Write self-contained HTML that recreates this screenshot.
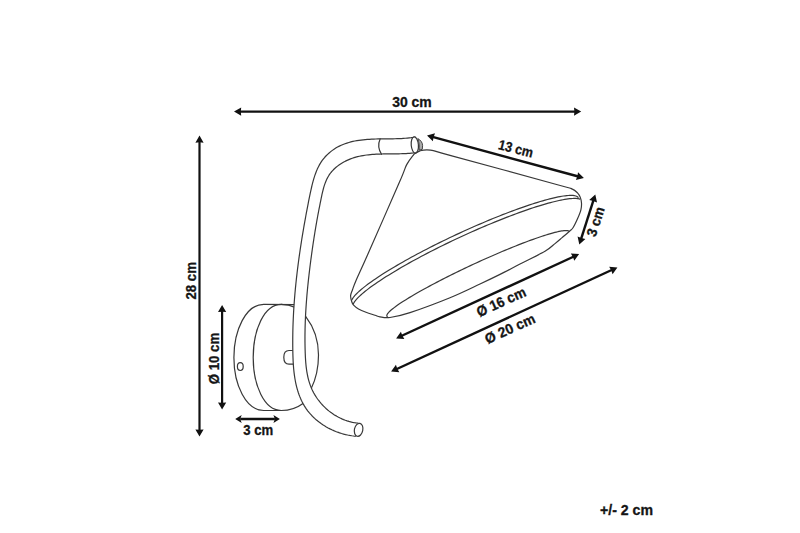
<!DOCTYPE html>
<html><head><meta charset="utf-8"><style>
html,body{margin:0;padding:0;background:#fff;}
svg{display:block;}
text{font-family:"Liberation Sans",sans-serif;font-weight:bold;fill:#151515;stroke:#151515;stroke-width:0.3px;}
</style></head><body>
<svg width="800" height="533" viewBox="0 0 800 533">
<rect width="800" height="533" fill="#fff"/>

<g fill="none" stroke="#383838" stroke-width="1.2" stroke-linejoin="round" stroke-linecap="round">
<!-- wall plate -->
<path d="M294,304.6 L263.7,304.4 C246,304.4 233.9,330 233.9,357.5 C233.9,385 246,410.5 263.7,410.5 L281,410.5"/>
<path d="M281.3,304.4 C264,304.4 253.2,330 253.2,357.5 C253.2,385 264,410.5 281.3,410.5 C290,410.5 297,408 303,403.5"/>
<path d="M281.3,304.4 C292,304.4 300,309 305.8,316.6 C313,326 318.5,340 318.5,355 C318.5,368 316,379 311,389"/>
<ellipse cx="240.3" cy="366.6" rx="2.9" ry="3.9"/>
<path d="M294,350.5 L289,350.5 C285.5,350.5 283.8,353.5 283.8,357.3 C283.8,361 285.5,364.2 289,364.2 L294,364.2"/>
<!-- rod -->
<path d="M415.07,137.00 L413.17,137.34 L411.24,137.63 L409.28,137.88 L407.30,138.09 L405.30,138.26 L403.28,138.41 L401.24,138.53 L399.18,138.62 L397.11,138.69 L395.02,138.75 L392.92,138.79 L390.81,138.82 L388.69,138.84 L386.56,138.86 L384.43,138.88 L382.29,138.90 L380.15,138.93 L378.01,138.97 L375.87,139.02 L373.73,139.09 L371.60,139.18 L369.47,139.29 L367.35,139.43 L365.24,139.60 L363.14,139.80 L361.05,140.04 L358.97,140.32 L356.92,140.65 L354.87,141.02 L352.85,141.45 L350.85,141.92 L348.87,142.46 L346.91,143.06 L344.98,143.72 L343.08,144.45 L341.21,145.25 L339.36,146.12 L337.55,147.08 L335.78,148.10 L334.04,149.21 L332.36,150.38 L330.72,151.63 L329.14,152.94 L327.62,154.32 L326.16,155.76 L324.78,157.27 L323.46,158.84 L322.23,160.46 L321.07,162.15 L320.00,163.88 L319.00,165.66 L318.07,167.49 L317.20,169.36 L316.40,171.26 L315.65,173.20 L314.95,175.16 L314.30,177.14 L313.69,179.14 L313.12,181.16 L312.58,183.18 L312.07,185.21 L311.58,187.24 L311.11,189.28 L310.66,191.31 L310.22,193.34 L309.80,195.38 L309.39,197.41 L308.98,199.45 L308.57,201.49 L308.17,203.52 L307.78,205.56 L307.39,207.60 L307.00,209.63 L306.61,211.67 L306.23,213.71 L305.85,215.75 L305.48,217.79 L305.11,219.83 L304.74,221.87 L304.38,223.91 L304.02,225.95 L303.67,227.99 L303.32,230.03 L302.97,232.08 L302.63,234.12 L302.29,236.16 L301.96,238.21 L301.63,240.25 L301.31,242.29 L300.99,244.34 L300.68,246.38 L300.37,248.43 L300.07,250.48 L299.77,252.52 L299.47,254.57 L299.18,256.62 L298.90,258.66 L298.62,260.71 L298.35,262.76 L298.08,264.81 L297.82,266.86 L297.56,268.91 L297.31,270.96 L297.07,273.01 L296.83,275.06 L296.59,277.11 L296.36,279.16 L296.14,281.21 L295.93,283.27 L295.72,285.32 L295.51,287.38 L295.32,289.43 L295.13,291.49 L294.94,293.54 L294.77,295.60 L294.60,297.66 L294.43,299.72 L294.28,301.78 L294.13,303.84 L293.99,305.90 L293.85,307.96 L293.72,310.03 L293.60,312.09 L293.49,314.15 L293.39,316.22 L293.29,318.29 L293.20,320.36 L293.11,322.43 L293.04,324.50 L292.97,326.57 L292.91,328.64 L292.86,330.71 L292.82,332.79 L292.79,334.87 L292.76,336.94 L292.75,339.02 L292.74,341.10 L292.74,343.18 L292.75,345.26 L292.76,347.35 L292.79,349.43 L292.83,351.52 L292.87,353.61 L292.93,355.70 L293.00,357.79 L293.08,359.87 L293.18,361.96 L293.31,364.04 L293.45,366.12 L293.62,368.20 L293.81,370.27 L294.04,372.33 L294.29,374.39 L294.58,376.44 L294.90,378.49 L295.26,380.52 L295.65,382.54 L296.09,384.56 L296.57,386.56 L297.10,388.55 L297.67,390.53 L298.29,392.50 L298.97,394.45 L299.70,396.38 L300.48,398.30 L301.32,400.19 L302.23,402.05 L303.19,403.88 L304.22,405.67 L305.31,407.42 L306.47,409.12 L307.69,410.78 L308.97,412.39 L310.30,413.95 L311.69,415.47 L313.13,416.94 L314.63,418.36 L316.17,419.73 L317.76,421.06 L319.39,422.33 L321.06,423.56 L322.78,424.73 L324.53,425.85 L326.31,426.92 L328.13,427.93 L329.98,428.89 L331.86,429.80 L333.76,430.65 L335.69,431.45 L337.64,432.19 L339.61,432.87 L341.60,433.50 L343.60,434.07 L345.62,434.58 L347.65,435.03 L349.68,435.43 L351.73,435.76 L353.77,436.03 L355.82,436.24 L358.04,423.16 L356.18,422.95 L354.33,422.66 L352.50,422.31 L350.68,421.89 L348.88,421.41 L347.10,420.86 L345.34,420.25 L343.60,419.58 L341.88,418.86 L340.19,418.07 L338.52,417.23 L336.88,416.34 L335.27,415.39 L333.69,414.40 L332.14,413.35 L330.62,412.25 L329.14,411.11 L327.69,409.93 L326.28,408.70 L324.91,407.42 L323.58,406.11 L322.29,404.76 L321.04,403.37 L319.84,401.95 L318.68,400.49 L317.57,399.00 L316.52,397.48 L315.51,395.92 L314.55,394.34 L313.64,392.74 L312.79,391.10 L312.00,389.45 L311.26,387.77 L310.58,386.07 L309.96,384.35 L309.38,382.61 L308.85,380.86 L308.37,379.09 L307.94,377.30 L307.54,375.50 L307.19,373.69 L306.87,371.86 L306.59,370.02 L306.34,368.18 L306.12,366.32 L305.93,364.46 L305.76,362.59 L305.62,360.72 L305.50,358.84 L305.39,356.96 L305.31,355.08 L305.23,353.20 L305.17,351.32 L305.11,349.44 L305.07,347.56 L305.03,345.68 L305.00,343.81 L304.98,341.93 L304.97,340.06 L304.97,338.19 L304.97,336.32 L304.99,334.46 L305.01,332.59 L305.04,330.72 L305.07,328.86 L305.12,327.00 L305.17,325.14 L305.23,323.28 L305.29,321.42 L305.37,319.56 L305.45,317.70 L305.53,315.85 L305.63,313.99 L305.73,312.14 L305.84,310.29 L305.95,308.44 L306.07,306.59 L306.20,304.74 L306.33,302.89 L306.47,301.04 L306.61,299.19 L306.76,297.35 L306.91,295.50 L307.07,293.66 L307.24,291.81 L307.41,289.97 L307.59,288.13 L307.77,286.28 L307.96,284.44 L308.15,282.60 L308.34,280.76 L308.54,278.92 L308.75,277.08 L308.96,275.24 L309.17,273.40 L309.39,271.56 L309.61,269.72 L309.83,267.88 L310.06,266.04 L310.29,264.21 L310.53,262.37 L310.77,260.53 L311.01,258.69 L311.26,256.85 L311.51,255.02 L311.76,253.18 L312.01,251.34 L312.27,249.51 L312.54,247.67 L312.80,245.83 L313.07,243.99 L313.35,242.16 L313.63,240.32 L313.91,238.49 L314.20,236.65 L314.49,234.82 L314.78,232.98 L315.08,231.15 L315.38,229.31 L315.69,227.48 L316.00,225.65 L316.31,223.81 L316.64,221.98 L316.96,220.15 L317.29,218.32 L317.62,216.49 L317.96,214.66 L318.31,212.83 L318.66,211.00 L319.01,209.17 L319.37,207.34 L319.73,205.51 L320.10,203.68 L320.47,201.85 L320.84,200.01 L321.22,198.16 L321.60,196.31 L321.99,194.47 L322.41,192.62 L322.85,190.79 L323.32,188.98 L323.82,187.18 L324.37,185.40 L324.97,183.65 L325.62,181.94 L326.33,180.25 L327.10,178.61 L327.95,177.01 L328.87,175.46 L329.88,173.96 L330.97,172.51 L332.14,171.12 L333.38,169.79 L334.70,168.51 L336.07,167.28 L337.51,166.12 L339.00,165.01 L340.54,163.96 L342.13,162.97 L343.75,162.03 L345.41,161.16 L347.10,160.34 L348.82,159.59 L350.55,158.89 L352.30,158.26 L354.06,157.68 L355.84,157.16 L357.64,156.68 L359.44,156.26 L361.26,155.88 L363.09,155.55 L364.93,155.25 L366.77,155.00 L368.63,154.78 L370.49,154.59 L372.36,154.43 L374.24,154.30 L376.12,154.19 L378.00,154.10 L379.88,154.04 L381.77,153.98 L383.66,153.95 L385.55,153.92 L387.44,153.90 L389.33,153.88 L391.21,153.87 L393.09,153.86 L394.97,153.85 L396.84,153.82 L398.71,153.80 L400.57,153.75 L402.42,153.70 L404.26,153.63 L406.10,153.54 L407.92,153.43 L409.73,153.29 L411.53,153.12 L413.32,152.93 L415.09,152.70Z" fill="#fff" stroke="none"/>
<path d="M415.07,137.00 L413.17,137.34 L411.24,137.63 L409.28,137.88 L407.30,138.09 L405.30,138.26 L403.28,138.41 L401.24,138.53 L399.18,138.62 L397.11,138.69 L395.02,138.75 L392.92,138.79 L390.81,138.82 L388.69,138.84 L386.56,138.86 L384.43,138.88 L382.29,138.90 L380.15,138.93 L378.01,138.97 L375.87,139.02 L373.73,139.09 L371.60,139.18 L369.47,139.29 L367.35,139.43 L365.24,139.60 L363.14,139.80 L361.05,140.04 L358.97,140.32 L356.92,140.65 L354.87,141.02 L352.85,141.45 L350.85,141.92 L348.87,142.46 L346.91,143.06 L344.98,143.72 L343.08,144.45 L341.21,145.25 L339.36,146.12 L337.55,147.08 L335.78,148.10 L334.04,149.21 L332.36,150.38 L330.72,151.63 L329.14,152.94 L327.62,154.32 L326.16,155.76 L324.78,157.27 L323.46,158.84 L322.23,160.46 L321.07,162.15 L320.00,163.88 L319.00,165.66 L318.07,167.49 L317.20,169.36 L316.40,171.26 L315.65,173.20 L314.95,175.16 L314.30,177.14 L313.69,179.14 L313.12,181.16 L312.58,183.18 L312.07,185.21 L311.58,187.24 L311.11,189.28 L310.66,191.31 L310.22,193.34 L309.80,195.38 L309.39,197.41 L308.98,199.45 L308.57,201.49 L308.17,203.52 L307.78,205.56 L307.39,207.60 L307.00,209.63 L306.61,211.67 L306.23,213.71 L305.85,215.75 L305.48,217.79 L305.11,219.83 L304.74,221.87 L304.38,223.91 L304.02,225.95 L303.67,227.99 L303.32,230.03 L302.97,232.08 L302.63,234.12 L302.29,236.16 L301.96,238.21 L301.63,240.25 L301.31,242.29 L300.99,244.34 L300.68,246.38 L300.37,248.43 L300.07,250.48 L299.77,252.52 L299.47,254.57 L299.18,256.62 L298.90,258.66 L298.62,260.71 L298.35,262.76 L298.08,264.81 L297.82,266.86 L297.56,268.91 L297.31,270.96 L297.07,273.01 L296.83,275.06 L296.59,277.11 L296.36,279.16 L296.14,281.21 L295.93,283.27 L295.72,285.32 L295.51,287.38 L295.32,289.43 L295.13,291.49 L294.94,293.54 L294.77,295.60 L294.60,297.66 L294.43,299.72 L294.28,301.78 L294.13,303.84 L293.99,305.90 L293.85,307.96 L293.72,310.03 L293.60,312.09 L293.49,314.15 L293.39,316.22 L293.29,318.29 L293.20,320.36 L293.11,322.43 L293.04,324.50 L292.97,326.57 L292.91,328.64 L292.86,330.71 L292.82,332.79 L292.79,334.87 L292.76,336.94 L292.75,339.02 L292.74,341.10 L292.74,343.18 L292.75,345.26 L292.76,347.35 L292.79,349.43 L292.83,351.52 L292.87,353.61 L292.93,355.70 L293.00,357.79 L293.08,359.87 L293.18,361.96 L293.31,364.04 L293.45,366.12 L293.62,368.20 L293.81,370.27 L294.04,372.33 L294.29,374.39 L294.58,376.44 L294.90,378.49 L295.26,380.52 L295.65,382.54 L296.09,384.56 L296.57,386.56 L297.10,388.55 L297.67,390.53 L298.29,392.50 L298.97,394.45 L299.70,396.38 L300.48,398.30 L301.32,400.19 L302.23,402.05 L303.19,403.88 L304.22,405.67 L305.31,407.42 L306.47,409.12 L307.69,410.78 L308.97,412.39 L310.30,413.95 L311.69,415.47 L313.13,416.94 L314.63,418.36 L316.17,419.73 L317.76,421.06 L319.39,422.33 L321.06,423.56 L322.78,424.73 L324.53,425.85 L326.31,426.92 L328.13,427.93 L329.98,428.89 L331.86,429.80 L333.76,430.65 L335.69,431.45 L337.64,432.19 L339.61,432.87 L341.60,433.50 L343.60,434.07 L345.62,434.58 L347.65,435.03 L349.68,435.43 L351.73,435.76 L353.77,436.03 L355.82,436.24"/>
<path d="M415.09,152.70 L413.32,152.93 L411.53,153.12 L409.73,153.29 L407.92,153.43 L406.10,153.54 L404.26,153.63 L402.42,153.70 L400.57,153.75 L398.71,153.80 L396.84,153.82 L394.97,153.85 L393.09,153.86 L391.21,153.87 L389.33,153.88 L387.44,153.90 L385.55,153.92 L383.66,153.95 L381.77,153.98 L379.88,154.04 L378.00,154.10 L376.12,154.19 L374.24,154.30 L372.36,154.43 L370.49,154.59 L368.63,154.78 L366.77,155.00 L364.93,155.25 L363.09,155.55 L361.26,155.88 L359.44,156.26 L357.64,156.68 L355.84,157.16 L354.06,157.68 L352.30,158.26 L350.55,158.89 L348.82,159.59 L347.10,160.34 L345.41,161.16 L343.75,162.03 L342.13,162.97 L340.54,163.96 L339.00,165.01 L337.51,166.12 L336.07,167.28 L334.70,168.51 L333.38,169.79 L332.14,171.12 L330.97,172.51 L329.88,173.96 L328.87,175.46 L327.95,177.01 L327.10,178.61 L326.33,180.25 L325.62,181.94 L324.97,183.65 L324.37,185.40 L323.82,187.18 L323.32,188.98 L322.85,190.79 L322.41,192.62 L321.99,194.47 L321.60,196.31 L321.22,198.16 L320.84,200.01 L320.47,201.85 L320.10,203.68 L319.73,205.51 L319.37,207.34 L319.01,209.17 L318.66,211.00 L318.31,212.83 L317.96,214.66 L317.62,216.49 L317.29,218.32 L316.96,220.15 L316.64,221.98 L316.31,223.81 L316.00,225.65 L315.69,227.48 L315.38,229.31 L315.08,231.15 L314.78,232.98 L314.49,234.82 L314.20,236.65 L313.91,238.49 L313.63,240.32 L313.35,242.16 L313.07,243.99 L312.80,245.83 L312.54,247.67 L312.27,249.51 L312.01,251.34 L311.76,253.18 L311.51,255.02 L311.26,256.85 L311.01,258.69 L310.77,260.53 L310.53,262.37 L310.29,264.21 L310.06,266.04 L309.83,267.88 L309.61,269.72 L309.39,271.56 L309.17,273.40 L308.96,275.24 L308.75,277.08 L308.54,278.92 L308.34,280.76 L308.15,282.60 L307.96,284.44 L307.77,286.28 L307.59,288.13 L307.41,289.97 L307.24,291.81 L307.07,293.66 L306.91,295.50 L306.76,297.35 L306.61,299.19 L306.47,301.04 L306.33,302.89 L306.20,304.74 L306.07,306.59 L305.95,308.44 L305.84,310.29 L305.73,312.14 L305.63,313.99 L305.53,315.85 L305.45,317.70 L305.37,319.56 L305.29,321.42 L305.23,323.28 L305.17,325.14 L305.12,327.00 L305.07,328.86 L305.04,330.72 L305.01,332.59 L304.99,334.46 L304.97,336.32 L304.97,338.19 L304.97,340.06 L304.98,341.93 L305.00,343.81 L305.03,345.68 L305.07,347.56 L305.11,349.44 L305.17,351.32 L305.23,353.20 L305.31,355.08 L305.39,356.96 L305.50,358.84 L305.62,360.72 L305.76,362.59 L305.93,364.46 L306.12,366.32 L306.34,368.18 L306.59,370.02 L306.87,371.86 L307.19,373.69 L307.54,375.50 L307.94,377.30 L308.37,379.09 L308.85,380.86 L309.38,382.61 L309.96,384.35 L310.58,386.07 L311.26,387.77 L312.00,389.45 L312.79,391.10 L313.64,392.74 L314.55,394.34 L315.51,395.92 L316.52,397.48 L317.57,399.00 L318.68,400.49 L319.84,401.95 L321.04,403.37 L322.29,404.76 L323.58,406.11 L324.91,407.42 L326.28,408.70 L327.69,409.93 L329.14,411.11 L330.62,412.25 L332.14,413.35 L333.69,414.40 L335.27,415.39 L336.88,416.34 L338.52,417.23 L340.19,418.07 L341.88,418.86 L343.60,419.58 L345.34,420.25 L347.10,420.86 L348.88,421.41 L350.68,421.89 L352.50,422.31 L354.33,422.66 L356.18,422.95 L358.04,423.16"/>
<path d="M380.1,138.9 C378.3,143 378.3,149 381.5,154.3"/>
<ellipse cx="414.8" cy="145" rx="3.6" ry="8.1" transform="rotate(-5 414.8 145)" fill="#fff"/>
<ellipse cx="358.6" cy="429.8" rx="4.2" ry="6.6" transform="rotate(12 358.6 429.8)" fill="#fff"/>
<!-- shade -->
<path d="M413.90,154.30 C412.70,156.02 409.10,159.97 406.70,164.60 C404.30,169.23 406.03,167.05 399.50,182.10 C392.97,197.15 374.71,238.58 367.50,254.90 C360.29,271.22 358.75,274.19 356.25,280.00 C353.75,285.81 353.44,287.12 352.50,289.75 C351.56,292.38 350.73,293.75 350.60,295.75 C350.48,297.75 351.25,300.19 351.75,301.75 C352.25,303.31 352.48,303.91 353.60,305.10 C354.73,306.29 356.43,307.71 358.50,308.90 C360.57,310.09 363.25,311.19 366.00,312.25 C368.75,313.31 372.67,314.48 375.00,315.25 C377.33,316.02 377.50,316.52 380.00,316.90 C382.50,317.27 385.00,318.22 390.00,317.50 C395.00,316.78 400.00,315.90 410.00,312.60 C420.00,309.30 438.33,302.47 450.00,297.70 C461.67,292.93 471.67,287.88 480.00,284.00 C488.33,280.12 493.33,277.73 500.00,274.40 C506.67,271.07 512.50,267.85 520.00,264.00 C527.50,260.15 539.17,254.70 545.00,251.30 C550.83,247.90 552.20,245.83 555.00,243.60 C557.80,241.37 559.37,239.97 561.80,237.90 C564.23,235.83 567.73,232.88 569.60,231.20 C571.47,229.52 571.68,229.87 573.00,227.80 C574.32,225.73 576.18,221.80 577.50,218.80 C578.82,215.80 580.23,212.43 580.90,209.80 C581.57,207.17 581.60,205.07 581.50,203.00 C581.40,200.93 580.97,199.08 580.30,197.40 C579.63,195.72 578.90,194.32 577.50,192.90 C576.10,191.48 575.08,190.22 571.90,188.90 C568.72,187.58 578.72,190.60 558.40,185.00 C538.08,179.40 471.33,161.10 450.00,155.30 C428.67,149.50 435.38,150.95 430.40,150.20 C425.42,149.45 422.85,150.12 420.10,150.80 C417.35,151.48 414.93,153.72 413.90,154.30"/>
<path d="M351.82,299.93 L352.21,299.17 L352.70,298.36 L353.29,297.51 L353.97,296.61 L354.75,295.68 L355.63,294.71 L356.61,293.70 L357.68,292.65 L358.84,291.57 L360.10,290.45 L361.45,289.29 L362.89,288.10 L364.42,286.88 L366.04,285.62 L367.74,284.34 L369.53,283.02 L371.41,281.68 L373.36,280.31 L375.40,278.91 L377.52,277.49 L379.71,276.05 L381.97,274.58 L384.32,273.09 L386.73,271.59 L389.21,270.06 L391.75,268.52 L394.36,266.96 L397.03,265.39 L399.77,263.80 L402.56,262.20 L405.40,260.59 L408.30,258.98 L411.24,257.35 L414.24,255.73 L417.27,254.09 L420.35,252.45 L423.47,250.82 L426.63,249.18 L429.82,247.54 L433.04,245.91 L436.29,244.27 L439.56,242.65 L442.86,241.03 L446.17,239.42 L449.50,237.82 L452.85,236.24 L456.20,234.66 L459.57,233.10 L462.93,231.55 L466.30,230.02 L469.67,228.51 L473.04,227.02 L476.39,225.55 L479.74,224.10 L483.08,222.68 L486.39,221.28 L489.69,219.90 L492.97,218.55 L496.23,217.23 L499.45,215.94 L502.65,214.68 L505.81,213.46 L508.94,212.26 L512.02,211.10 L515.07,209.97 L518.07,208.88 L521.03,207.82 L523.94,206.81 L526.79,205.83 L529.59,204.89 L532.34,203.99 L535.02,203.13 L537.65,202.32 L540.21,201.54 L542.70,200.81 L545.12,200.13 L547.48,199.48 L549.76,198.89 L551.97,198.33 L554.10,197.83 L556.15,197.37 L558.13,196.96 L560.02,196.59 L561.83,196.27 L563.55,196.00 L565.18,195.78 L566.73,195.61 L568.19,195.48 L569.56,195.40 L570.84,195.37 L572.02,195.39 L573.11,195.46 L574.10,195.58 L575.00,195.74 L575.80,195.96 L576.51,196.22 L577.11,196.53 L577.62,196.89 L578.03,197.29"/>
<path d="M353.24,303.99 L353.62,303.24 L354.09,302.44 L354.65,301.61 L355.30,300.74 L356.05,299.83 L356.88,298.89 L357.80,297.91 L358.81,296.89 L359.91,295.84 L361.10,294.76 L362.37,293.64 L363.73,292.49 L365.17,291.32 L366.69,290.11 L368.30,288.87 L369.98,287.60 L371.75,286.31 L373.59,284.99 L375.51,283.65 L377.50,282.29 L379.57,280.90 L381.71,279.49 L383.91,278.06 L386.19,276.61 L388.53,275.14 L390.93,273.65 L393.40,272.15 L395.92,270.64 L398.51,269.11 L401.15,267.57 L403.84,266.02 L406.58,264.46 L409.38,262.89 L412.22,261.32 L415.11,259.74 L418.04,258.16 L421.00,256.57 L424.01,254.98 L427.05,253.39 L430.13,251.80 L433.23,250.21 L436.37,248.63 L439.52,247.05 L442.70,245.48 L445.91,243.91 L449.12,242.35 L452.36,240.80 L455.60,239.27 L458.86,237.74 L462.12,236.23 L465.39,234.74 L468.66,233.25 L471.93,231.79 L475.19,230.35 L478.45,228.92 L481.70,227.51 L484.94,226.13 L488.17,224.77 L491.38,223.43 L494.57,222.12 L497.74,220.83 L500.88,219.57 L504.00,218.34 L507.08,217.14 L510.14,215.97 L513.16,214.83 L516.15,213.72 L519.09,212.64 L522.00,211.60 L524.86,210.59 L527.67,209.62 L530.44,208.68 L533.15,207.78 L535.81,206.92 L538.42,206.10 L540.97,205.31 L543.46,204.57 L545.89,203.86 L548.26,203.20 L550.56,202.58 L552.80,202.00 L554.96,201.46 L557.06,200.96 L559.08,200.51 L561.03,200.10 L562.91,199.73 L564.70,199.41 L566.42,199.14 L568.06,198.90 L569.62,198.72 L571.10,198.57 L572.49,198.48 L573.80,198.42 L575.02,198.42 L576.15,198.45 L577.20,198.54 L578.16,198.67 L579.03,198.84 L579.81,199.06"/>
<path d="M387.29,316.64 L387.03,316.38 L386.87,316.08 L386.80,315.73 L386.82,315.35 L386.94,314.92 L387.14,314.45 L387.44,313.94 L387.83,313.39 L388.31,312.80 L388.89,312.17 L389.55,311.50 L390.30,310.79 L391.14,310.04 L392.07,309.26 L393.09,308.45 L394.19,307.60 L395.38,306.71 L396.65,305.79 L398.00,304.84 L399.44,303.86 L400.95,302.85 L402.54,301.81 L404.21,300.74 L405.95,299.64 L407.77,298.52 L409.66,297.37 L411.61,296.20 L413.64,295.00 L415.72,293.79 L417.88,292.55 L420.09,291.30 L422.36,290.02 L424.69,288.74 L427.07,287.43 L429.50,286.12 L431.99,284.79 L434.52,283.45 L437.09,282.10 L439.70,280.74 L442.36,279.37 L445.05,278.00 L447.77,276.63 L450.52,275.25 L453.31,273.87 L456.11,272.49 L458.94,271.11 L461.79,269.74 L464.66,268.37 L467.54,267.00 L470.43,265.65 L473.32,264.30 L476.23,262.96 L479.13,261.63 L482.03,260.31 L484.93,259.01 L487.82,257.72 L490.71,256.45 L493.58,255.20 L496.43,253.96 L499.27,252.75 L502.08,251.55 L504.87,250.38 L507.64,249.24 L510.37,248.11 L513.07,247.02 L515.74,245.95 L518.36,244.91 L520.95,243.90 L523.49,242.92 L525.99,241.97 L528.44,241.05 L530.84,240.17 L533.19,239.32 L535.48,238.50 L537.71,237.72 L539.88,236.98 L541.99,236.28 L544.03,235.61 L546.01,234.98 L547.92,234.39 L549.76,233.84 L551.53,233.33 L553.22,232.87 L554.84,232.44 L556.37,232.06 L557.83,231.71 L559.21,231.42 L560.51,231.16 L561.73,230.95 L562.85,230.78 L563.90,230.65 L564.86,230.57 L565.73,230.53 L566.51,230.53 L567.20,230.58 L567.80,230.68 L568.31,230.81 L568.73,230.99 L569.06,231.22"/>
</g>
<path d="M417.8,138.6 C420.5,140 422.6,142.5 422.6,145.5 L422.3,149.3 L419,150.2 C419.5,147 419.3,143 417.8,138.6Z" fill="#aaa" stroke="#333" stroke-width="0.9"/>

<line x1="239.70" y1="111.60" x2="575.50" y2="111.60" stroke="#111" stroke-width="2.4"/>
<path d="M234.00,111.60 L241.20,115.70 L240.80,111.60 L241.20,107.50Z" fill="#111"/>
<path d="M581.20,111.60 L574.00,115.70 L574.40,111.60 L574.00,107.50Z" fill="#111"/>
<line x1="199.50" y1="141.20" x2="199.50" y2="430.90" stroke="#111" stroke-width="2.2"/>
<path d="M199.50,135.50 L195.40,142.70 L199.50,142.30 L203.60,142.70Z" fill="#111"/>
<path d="M199.50,436.60 L195.40,429.40 L199.50,429.80 L203.60,429.40Z" fill="#111"/>
<line x1="222.10" y1="310.60" x2="222.10" y2="403.90" stroke="#111" stroke-width="2.2"/>
<path d="M222.10,304.90 L218.00,312.10 L222.10,311.70 L226.20,312.10Z" fill="#111"/>
<path d="M222.10,409.60 L218.00,402.40 L222.10,402.80 L226.20,402.40Z" fill="#111"/>
<line x1="240.20" y1="419.00" x2="274.90" y2="419.00" stroke="#111" stroke-width="2.4"/>
<path d="M235.20,419.00 L241.70,423.00 L240.20,419.00 L241.70,415.00Z" fill="#111"/>
<path d="M279.90,419.00 L273.40,423.00 L274.90,419.00 L273.40,415.00Z" fill="#111"/>
<line x1="432.50" y1="136.89" x2="578.40" y2="176.51" stroke="#111" stroke-width="2.4"/>
<path d="M427.00,135.40 L432.87,141.24 L433.56,137.18 L435.02,133.33Z" fill="#111"/>
<path d="M583.90,178.00 L575.88,180.07 L577.34,176.22 L578.03,172.16Z" fill="#111"/>
<line x1="593.57" y1="199.93" x2="581.03" y2="239.17" stroke="#111" stroke-width="2.4"/>
<path d="M595.30,194.50 L589.20,200.11 L593.23,200.98 L597.02,202.61Z" fill="#111"/>
<path d="M579.30,244.60 L577.58,236.49 L581.37,238.12 L585.40,238.99Z" fill="#111"/>
<line x1="401.28" y1="336.02" x2="573.92" y2="256.48" stroke="#111" stroke-width="2.4"/>
<path d="M396.10,338.40 L404.35,339.11 L402.28,335.55 L400.92,331.66Z" fill="#111"/>
<path d="M579.10,254.10 L574.28,260.84 L572.92,256.95 L570.85,253.39Z" fill="#111"/>
<line x1="396.28" y1="369.22" x2="612.22" y2="269.78" stroke="#111" stroke-width="2.4"/>
<path d="M391.10,371.60 L399.35,372.31 L397.28,368.76 L395.93,364.86Z" fill="#111"/>
<path d="M617.40,267.40 L612.57,274.14 L611.22,270.24 L609.15,266.69Z" fill="#111"/>
<text x="392.2" y="106.7" font-size="14" textLength="39.5" lengthAdjust="spacingAndGlyphs">30 cm</text>
<text x="196" y="299.6" font-size="14" textLength="37.5" lengthAdjust="spacingAndGlyphs" transform="rotate(-90 196 299.6)">28 cm</text>
<text x="218.6" y="384.3" font-size="14" textLength="51.5" lengthAdjust="spacingAndGlyphs" transform="rotate(-90 218.6 384.3)">Ø 10 cm</text>
<text x="243.2" y="434.7" font-size="14" textLength="30" lengthAdjust="spacingAndGlyphs">3 cm</text>
<text x="497.4" y="149.1" font-size="14" textLength="35.5" lengthAdjust="spacingAndGlyphs" transform="rotate(14.2 497.4 149.1)">13 cm</text>
<text x="595.6" y="237.6" font-size="14" textLength="30.5" lengthAdjust="spacingAndGlyphs" transform="rotate(-72.3 595.6 237.6)">3 cm</text>
<text x="479.3" y="317.2" font-size="14.3" textLength="52.5" lengthAdjust="spacingAndGlyphs" transform="rotate(-24.3 479.3 317.2)">Ø 16 cm</text>
<text x="487.6" y="344.2" font-size="14.3" textLength="53.5" lengthAdjust="spacingAndGlyphs" transform="rotate(-24.3 487.6 344.2)">Ø 20 cm</text>
<text x="600" y="514.6" font-size="14" textLength="53" lengthAdjust="spacingAndGlyphs">+/- 2 cm</text>
</svg>
</body></html>
